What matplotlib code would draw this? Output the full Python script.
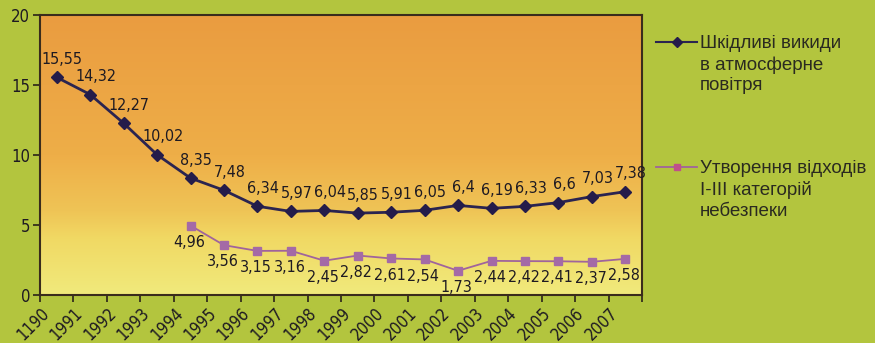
import matplotlib
matplotlib.use('Agg')
import matplotlib.pyplot as plt
import numpy as np
from matplotlib.colors import LinearSegmentedColormap
from matplotlib.lines import Line2D

# x labels as printed in the source (the "1190" typo is kept)
years = ['1190', '1991', '1992', '1993', '1994', '1995', '1996', '1997', '1998',
         '1999', '2000', '2001', '2002', '2003', '2004', '2005', '2006', '2007']
emissions = [15.55, 14.32, 12.27, 10.02, 8.35, 7.48, 6.34, 5.97, 6.04,
             5.85, 5.91, 6.05, 6.4, 6.19, 6.33, 6.6, 7.03, 7.38]
waste_start = 4  # waste series begins in 1994
waste = [4.96, 3.56, 3.15, 3.16, 2.45, 2.82, 2.61, 2.54, 1.73,
         2.44, 2.42, 2.41, 2.37, 2.58]
legend_labels = ['Шкідливі викиди\nв атмосферне\nповітря',
                 'Утворення відходів\nI-III категорій\nнебезпеки']

narrow = ['DejaVu Sans']
W, H = 875, 343

fig = plt.figure(figsize=(W / 100, H / 100), dpi=100)
fig.patch.set_facecolor('#b3c53e')
ax = fig.add_axes([40 / W, (H - 295) / H, (642 - 40) / W, (295 - 15) / H])

# orange -> yellow background of the plot area
cmap = LinearSegmentedColormap.from_list(
    'bg', [(0, '#f0ea7c'), (0.2, '#f1d964'), (0.3, '#efc456'),
           (0.5, '#eeae48'), (1, '#ea9c40')])
grad = np.linspace(0, 1, 256).reshape(-1, 1)
ax.imshow(grad, extent=[0, len(years), 0, 20], origin='lower', aspect='auto',
          cmap=cmap, zorder=0)

x = np.arange(len(years)) + 0.5
xw = x[waste_start:]

ax.plot(x, emissions, color='#2b2450', lw=2, marker='D', ms=6,
        mfc='#241c4a', mec='#241c4a', zorder=3)
ax.plot(xw, waste, color='#a0649c', lw=1.3, marker='s', ms=6,
        mfc='#a46aa6', mec='#a46aa6', zorder=3)

lab_kw = dict(fontsize=11.5, family=narrow, stretch='condensed', color='#1e1a22')
for xi, v in zip(x, emissions):
    ax.annotate(f'{v:g}'.replace('.', ','), (xi, v), xytext=(4, 13),
                textcoords='offset points', ha='center', va='center', **lab_kw)
for xi, v in zip(xw, waste):
    ax.annotate(f'{v:g}'.replace('.', ','), (xi, v), xytext=(-1, -12),
                textcoords='offset points', ha='center', va='center', **lab_kw)

ax.set_xlim(0, len(years))
ax.set_ylim(0, 20)
ax.set_yticks([0, 5, 10, 15, 20])
ax.set_xticks(np.arange(len(years) + 1))
ax.set_xticklabels(years + [''], rotation=45, ha='right', va='top',
                   rotation_mode='anchor')
for lab in ax.get_xticklabels() + ax.get_yticklabels():
    lab.set_family(narrow)
    lab.set_stretch('condensed')
    lab.set_fontsize(12)
    lab.set_color('#1e1a22')
ax.tick_params(axis='both', direction='out', length=5, width=1.2,
               color='#2a2218', pad=2)
for s in ax.spines.values():
    s.set_color('#3a2c1c')
    s.set_linewidth(1.5)

# legend drawn by hand on the right
leg_y = [(H - 42) / H, (H - 167) / H]
styles = [dict(color='#2b2450', marker='D', mfc='#241c4a', mec='#241c4a', lw=1.5),
          dict(color='#a0649c', marker='s', mfc='#c0508a', mec='#c0508a', lw=1.3)]
for yy, st, lbl in zip(leg_y, styles, legend_labels):
    fig.add_artist(Line2D([656 / W, 697 / W], [yy, yy], color=st['color'],
                          lw=st['lw'], transform=fig.transFigure))
    fig.add_artist(Line2D([677 / W], [yy], ms=5, transform=fig.transFigure,
                          linestyle='none', marker=st['marker'], mfc=st['mfc'], mec=st['mec']))
    fig.text(700 / W, yy + 7 / H, lbl, ha='left', va='top', fontsize=13.5,
             family=['Liberation Sans', 'DejaVu Sans'], color='#2a2a20',
             linespacing=1.3, transform=fig.transFigure)

fig.savefig('out.png', dpi=100, facecolor=fig.get_facecolor())
